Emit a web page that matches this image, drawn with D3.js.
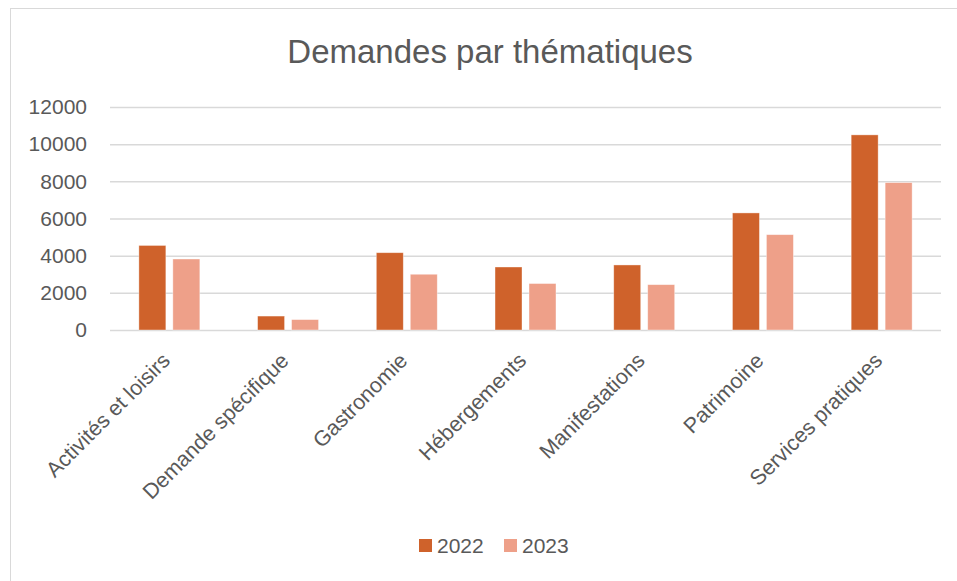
<!DOCTYPE html>
<html>
<head>
<meta charset="utf-8">
<script src="https://cdn.jsdelivr.net/npm/d3@7"></script>
<style>
  body { margin: 0; background: #fff; }
  text { font-family: "Liberation Sans", Arial, sans-serif; fill: #595959; }
</style>
</head>
<body>
<div id="app"></div>
<script>
// values
const categories = ['Activités et loisirs', 'Demande spécifique', 'Gastronomie', 'Hébergements',
                    'Manifestations', 'Patrimoine', 'Services pratiques'];
const series = ['2022', '2023'];
const values2022 = [4550, 750, 4160, 3390, 3500, 6300, 10500];
const values2023 = [3820, 560, 3000, 2500, 2440, 5130, 7930];
const yTicks = [0, 2000, 4000, 6000, 8000, 10000, 12000];
const colors = ['#CF622B', '#EEA089'];

const W = 957, H = 581;
const plot = {left: 110, right: 941, top: 107, bottom: 330};

const svg = d3.select('#app').append('svg')
  .attr('width', W).attr('height', H);

// chart border
svg.append('rect')
  .attr('x', 10.5).attr('y', 8.5)
  .attr('width', W).attr('height', H)
  .attr('fill', '#fff').attr('stroke', '#d9d9d9').attr('stroke-width', 1);

svg.append('text')
  .attr('x', 490).attr('y', 63)
  .attr('text-anchor', 'middle')
  .style('font-size', '33px')
  .text('Demandes par thématiques');

var x0 = d3.scaleBand().domain(categories).range([plot.left, plot.right]).padding(0);
var x1 = d3.scaleBand().domain(series).range([0, x0.bandwidth()])
  .paddingInner(0.206).paddingOuter(0.85);
var y = d3.scaleLinear().domain([0, 12000]).range([plot.bottom, plot.top]);

// grid + y labels
const yAxis = svg.append('g')
  .attr('transform', `translate(${plot.left},0)`)
  .call(d3.axisLeft(y).tickValues(yTicks).tickFormat(d3.format('d'))
        .tickSize(-(plot.right - plot.left)).tickPadding(23));
yAxis.select('.domain').remove();
yAxis.selectAll('.tick line').attr('stroke', '#d9d9d9').attr('stroke-width', 1.5);
yAxis.selectAll('.tick text').style('font-size', '21px').attr('fill', '#595959')
  .style('font-family', '"Liberation Sans", Arial, sans-serif');

const rows = categories.map((c, i) => ({cat: c, vals: [values2022[i], values2023[i]]}));

const groups = svg.selectAll('g.cat').data(rows).enter()
  .append('g').attr('class', 'cat')
  .attr('transform', d => `translate(${x0(d.cat)},0)`);

groups.selectAll('rect').data(d => d.vals.map((v, k) => ({s: series[k], v: v, k: k})))
  .enter().append('rect')
  .attr('x', d => x1(d.s))
  .attr('width', x1.bandwidth())
  .attr('y', d => y(d.v))
  .attr('height', d => y(0) - y(d.v))
  .attr('fill', d => colors[d.k])
  .attr('stroke', '#fff').attr('stroke-opacity', 0.5).attr('stroke-width', 0.75);

// x labels, rotated
svg.selectAll('text.xlab').data(categories).enter()
  .append('text').attr('class', 'xlab')
  .attr('text-anchor', 'end')
  .style('font-size', '21.5px')
  .attr('transform', d => `translate(${x0(d) + x0.bandwidth() / 2 + 2},${plot.bottom + 32}) rotate(-45)`)
  .text(d => d);

// legend
const legend = svg.append('g').attr('transform', 'translate(419,539)');
const item = legend.selectAll('g').data(series).enter().append('g')
  .attr('transform', (d, i) => `translate(${i * 85},0)`);
item.append('rect').attr('width', 13).attr('height', 13).attr('fill', (d, i) => colors[i]);
item.append('text').attr('x', 18).attr('y', 14).style('font-size', '21px').text(d => d);
</script>
</body>
</html>
